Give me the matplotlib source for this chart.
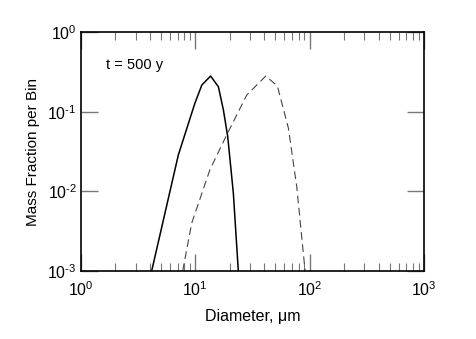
import numpy as np
import matplotlib
matplotlib.use('Agg')
import matplotlib.pyplot as plt
from matplotlib.ticker import LogLocator, NullFormatter, FuncFormatter

plt.rcParams['font.family'] = ['Liberation Sans', 'DejaVu Sans']
plt.rcParams['mathtext.fontset'] = 'custom'
plt.rcParams['mathtext.rm'] = 'Liberation Sans'
plt.rcParams['mathtext.it'] = 'Liberation Sans'

# solid curve (t = 500 y, first distribution)
d_solid = [4.15, 7.1, 9.9, 11.4, 13.6, 15.9, 17.6, 19.2, 21.5, 24.0]
m_solid = [1e-3, 0.0286, 0.127, 0.216, 0.28, 0.206, 0.105, 0.0486, 0.0095, 0.0008]

# dashed curve (second distribution)
d_dash = [7.75, 9.3, 13.4, 18.8, 28.2, 41.3, 52.2, 65.2, 77.1, 91.2]
m_dash = [1e-3, 0.004, 0.0186, 0.051, 0.162, 0.28, 0.21, 0.062, 0.0114, 0.001]


def pow10(v, pos):
    e = int(round(np.log10(v)))
    if e < 0:
        return r'$\mathregular{10^{\text{-}%d}}$' % (-e)
    return r'$\mathregular{10^{%d}}$' % e


fig = plt.figure(figsize=(4.77, 3.39), dpi=100)
ax = fig.add_axes([81/477, 1 - 271/339, 343/477, 239/339])

ax.plot(d_solid, m_solid, color='black', lw=1.1)
ax.plot(d_dash, m_dash, color='#444444', lw=0.8, dashes=(7, 4))

ax.set_xscale('log')
ax.set_yscale('log')
ax.set_xlim(1, 1000)
ax.set_ylim(1e-3, 1)

ax.xaxis.set_minor_locator(LogLocator(base=10, subs=np.arange(2, 10)))
ax.xaxis.set_minor_formatter(NullFormatter())
ax.yaxis.set_minor_locator(plt.NullLocator())
ax.xaxis.set_major_formatter(FuncFormatter(pow10))
ax.yaxis.set_major_formatter(FuncFormatter(pow10))

ax.tick_params(which='major', direction='in', length=12, width=1, top=True, right=True,
               labelsize=11.5, color='#777777')
ax.tick_params(axis='x', which='major', pad=7)
ax.tick_params(axis='y', which='major', pad=3)
ax.tick_params(which='minor', direction='in', length=6, width=0.8, top=True, right=True,
               color='#777777')
for s in ax.spines.values():
    s.set_linewidth(1.2)

ax.set_xlabel('Diameter, \u03bcm', fontsize=11.5, labelpad=7)
ax.set_ylabel('Mass Fraction per Bin', fontsize=11, labelpad=5)
ax.text(106, 339 - 65, 't = 500 y', transform=None, fontsize=10.5, va='center')

fig.savefig('out.png', dpi=100)
